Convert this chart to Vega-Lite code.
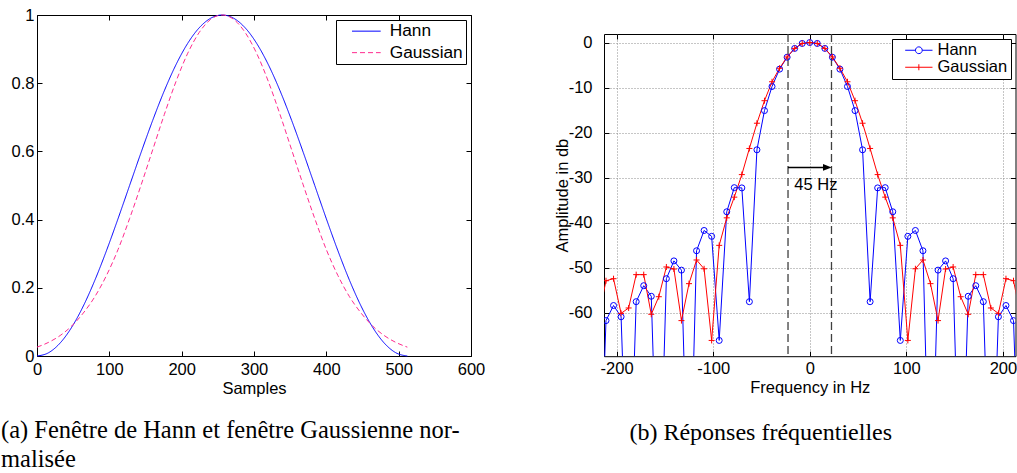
{
  "$schema": "https://vega.github.io/schema/vega-lite/v6.json",
  "padding": 0,
  "background": "white",
  "spacing": 67,
  "resolve": {"scale": {"color": "independent", "strokeDash": "independent"}, "legend": {"color": "independent", "strokeDash": "independent"}},
  "config": {
    "font": "Liberation Sans",
    "view": {"stroke": "black", "strokeWidth": 1},
    "axis": {"domain": false, "tickColor": "black", "tickSize": -5, "tickWidth": 1, "labelFontSize": 16.5, "labelColor": "black", "labelFont": "Liberation Sans", "titleFont": "Liberation Sans", "titleFontSize": 16.5, "titleFontWeight": "normal", "titleColor": "black", "grid": false, "labelFlush": false, "labelOverlap": false},
    "legend": {"orient": "top-right", "offset": 5, "strokeColor": "black", "fillColor": "white", "cornerRadius": 0, "labelColor": "black", "labelFont": "Liberation Sans"}
  },
  "datasets": {
    "spec": [
      {"f": -218.75, "db": -110, "s": "Hann"}, {"f": -210.9375, "db": -61.7, "s": "Hann"}, {"f": -203.125, "db": -58.35, "s": "Hann"}, {"f": -195.3125, "db": -60.85, "s": "Hann"}, {"f": -187.5, "db": -110, "s": "Hann"}, {"f": -179.6875, "db": -57.5, "s": "Hann"}, {"f": -171.875, "db": -53.95, "s": "Hann"}, {"f": -164.0625, "db": -56.3, "s": "Hann"}, {"f": -156.25, "db": -110, "s": "Hann"}, {"f": -148.4375, "db": -52.4, "s": "Hann"}, {"f": -140.625, "db": -48.45, "s": "Hann"}, {"f": -132.8125, "db": -50.5, "s": "Hann"}, {"f": -125, "db": -110, "s": "Hann"}, {"f": -117.1875, "db": -46.2, "s": "Hann"}, {"f": -109.375, "db": -41.7, "s": "Hann"}, {"f": -101.5625, "db": -43.0, "s": "Hann"}, {"f": -93.75, "db": -66.1, "s": "Hann"}, {"f": -85.9375, "db": -37.55, "s": "Hann"}, {"f": -78.125, "db": -32.2, "s": "Hann"}, {"f": -70.3125, "db": -32.25, "s": "Hann"}, {"f": -62.5, "db": -57.5, "s": "Hann"}, {"f": -54.6875, "db": -23.8, "s": "Hann"}, {"f": -46.875, "db": -15.1, "s": "Hann"}, {"f": -39.0625, "db": -9.75, "s": "Hann"}, {"f": -31.25, "db": -5.9, "s": "Hann"}, {"f": -23.4375, "db": -3.25, "s": "Hann"}, {"f": -15.625, "db": -1.3, "s": "Hann"}, {"f": -7.8125, "db": -0.2, "s": "Hann"}, {"f": 0, "db": 0, "s": "Hann"}, {"f": 7.8125, "db": -0.2, "s": "Hann"}, {"f": 15.625, "db": -1.3, "s": "Hann"}, {"f": 23.4375, "db": -3.25, "s": "Hann"}, {"f": 31.25, "db": -5.9, "s": "Hann"}, {"f": 39.0625, "db": -9.75, "s": "Hann"}, {"f": 46.875, "db": -15.1, "s": "Hann"}, {"f": 54.6875, "db": -23.8, "s": "Hann"}, {"f": 62.5, "db": -57.5, "s": "Hann"}, {"f": 70.3125, "db": -32.25, "s": "Hann"}, {"f": 78.125, "db": -32.2, "s": "Hann"}, {"f": 85.9375, "db": -37.55, "s": "Hann"}, {"f": 93.75, "db": -66.1, "s": "Hann"}, {"f": 101.5625, "db": -43.0, "s": "Hann"}, {"f": 109.375, "db": -41.7, "s": "Hann"}, {"f": 117.1875, "db": -46.2, "s": "Hann"}, {"f": 125, "db": -110, "s": "Hann"}, {"f": 132.8125, "db": -50.5, "s": "Hann"}, {"f": 140.625, "db": -48.45, "s": "Hann"}, {"f": 148.4375, "db": -52.4, "s": "Hann"}, {"f": 156.25, "db": -110, "s": "Hann"}, {"f": 164.0625, "db": -56.3, "s": "Hann"}, {"f": 171.875, "db": -53.95, "s": "Hann"}, {"f": 179.6875, "db": -57.5, "s": "Hann"}, {"f": 187.5, "db": -110, "s": "Hann"}, {"f": 195.3125, "db": -60.85, "s": "Hann"}, {"f": 203.125, "db": -58.35, "s": "Hann"}, {"f": 210.9375, "db": -61.7, "s": "Hann"}, {"f": 218.75, "db": -110, "s": "Hann"},
      {"f": -218.75, "db": -61, "s": "Gaussian"}, {"f": -210.9375, "db": -52.85, "s": "Gaussian"}, {"f": -203.125, "db": -52.4, "s": "Gaussian"}, {"f": -195.3125, "db": -60.1, "s": "Gaussian"}, {"f": -187.5, "db": -58.9, "s": "Gaussian"}, {"f": -179.6875, "db": -51.5, "s": "Gaussian"}, {"f": -171.875, "db": -51.5, "s": "Gaussian"}, {"f": -164.0625, "db": -60.3, "s": "Gaussian"}, {"f": -156.25, "db": -56.4, "s": "Gaussian"}, {"f": -148.4375, "db": -49.8, "s": "Gaussian"}, {"f": -140.625, "db": -50.25, "s": "Gaussian"}, {"f": -132.8125, "db": -61.7, "s": "Gaussian"}, {"f": -125, "db": -53.5, "s": "Gaussian"}, {"f": -117.1875, "db": -48.25, "s": "Gaussian"}, {"f": -109.375, "db": -50.2, "s": "Gaussian"}, {"f": -101.5625, "db": -66.1, "s": "Gaussian"}, {"f": -93.75, "db": -45.0, "s": "Gaussian"}, {"f": -85.9375, "db": -38.9, "s": "Gaussian"}, {"f": -78.125, "db": -34.3, "s": "Gaussian"}, {"f": -70.3125, "db": -29.3, "s": "Gaussian"}, {"f": -62.5, "db": -23.5, "s": "Gaussian"}, {"f": -54.6875, "db": -17.9, "s": "Gaussian"}, {"f": -46.875, "db": -12.9, "s": "Gaussian"}, {"f": -39.0625, "db": -8.7, "s": "Gaussian"}, {"f": -31.25, "db": -5.7, "s": "Gaussian"}, {"f": -23.4375, "db": -3.2, "s": "Gaussian"}, {"f": -15.625, "db": -1.3, "s": "Gaussian"}, {"f": -7.8125, "db": -0.2, "s": "Gaussian"}, {"f": 0, "db": 0, "s": "Gaussian"}, {"f": 7.8125, "db": -0.2, "s": "Gaussian"}, {"f": 15.625, "db": -1.3, "s": "Gaussian"}, {"f": 23.4375, "db": -3.2, "s": "Gaussian"}, {"f": 31.25, "db": -5.7, "s": "Gaussian"}, {"f": 39.0625, "db": -8.7, "s": "Gaussian"}, {"f": 46.875, "db": -12.9, "s": "Gaussian"}, {"f": 54.6875, "db": -17.9, "s": "Gaussian"}, {"f": 62.5, "db": -23.5, "s": "Gaussian"}, {"f": 70.3125, "db": -29.3, "s": "Gaussian"}, {"f": 78.125, "db": -34.3, "s": "Gaussian"}, {"f": 85.9375, "db": -38.9, "s": "Gaussian"}, {"f": 93.75, "db": -45.0, "s": "Gaussian"}, {"f": 101.5625, "db": -66.1, "s": "Gaussian"}, {"f": 109.375, "db": -50.2, "s": "Gaussian"}, {"f": 117.1875, "db": -48.25, "s": "Gaussian"}, {"f": 125, "db": -53.5, "s": "Gaussian"}, {"f": 132.8125, "db": -61.7, "s": "Gaussian"}, {"f": 140.625, "db": -50.25, "s": "Gaussian"}, {"f": 148.4375, "db": -49.8, "s": "Gaussian"}, {"f": 156.25, "db": -56.4, "s": "Gaussian"}, {"f": 164.0625, "db": -60.3, "s": "Gaussian"}, {"f": 171.875, "db": -51.5, "s": "Gaussian"}, {"f": 179.6875, "db": -51.5, "s": "Gaussian"}, {"f": 187.5, "db": -58.9, "s": "Gaussian"}, {"f": 195.3125, "db": -60.1, "s": "Gaussian"}, {"f": 203.125, "db": -52.4, "s": "Gaussian"}, {"f": 210.9375, "db": -52.85, "s": "Gaussian"}, {"f": 218.75, "db": -61, "s": "Gaussian"}
    ],
    "win": [
      {"n": 0, "v": 0, "s": "Hann"}, {"n": 16, "v": 0.0096, "s": "Hann"}, {"n": 32, "v": 0.0381, "s": "Hann"}, {"n": 48, "v": 0.0843, "s": "Hann"}, {"n": 64, "v": 0.1464, "s": "Hann"}, {"n": 80, "v": 0.2222, "s": "Hann"}, {"n": 96, "v": 0.3087, "s": "Hann"}, {"n": 112, "v": 0.4025, "s": "Hann"}, {"n": 128, "v": 0.5, "s": "Hann"}, {"n": 144, "v": 0.5975, "s": "Hann"}, {"n": 160, "v": 0.6913, "s": "Hann"}, {"n": 176, "v": 0.7778, "s": "Hann"}, {"n": 192, "v": 0.8536, "s": "Hann"}, {"n": 208, "v": 0.9157, "s": "Hann"}, {"n": 224, "v": 0.9619, "s": "Hann"}, {"n": 240, "v": 0.9904, "s": "Hann"}, {"n": 256, "v": 1, "s": "Hann"}, {"n": 272, "v": 0.9904, "s": "Hann"}, {"n": 288, "v": 0.9619, "s": "Hann"}, {"n": 304, "v": 0.9157, "s": "Hann"}, {"n": 320, "v": 0.8536, "s": "Hann"}, {"n": 336, "v": 0.7778, "s": "Hann"}, {"n": 352, "v": 0.6913, "s": "Hann"}, {"n": 368, "v": 0.5975, "s": "Hann"}, {"n": 384, "v": 0.5, "s": "Hann"}, {"n": 400, "v": 0.4025, "s": "Hann"}, {"n": 416, "v": 0.3087, "s": "Hann"}, {"n": 432, "v": 0.2222, "s": "Hann"}, {"n": 448, "v": 0.1464, "s": "Hann"}, {"n": 464, "v": 0.0843, "s": "Hann"}, {"n": 480, "v": 0.0381, "s": "Hann"}, {"n": 496, "v": 0.0096, "s": "Hann"}, {"n": 512, "v": 0, "s": "Hann"},
      {"n": 0, "v": 0.026, "s": "Gaussian"}, {"n": 16, "v": 0.040, "s": "Gaussian"}, {"n": 32, "v": 0.060, "s": "Gaussian"}, {"n": 48, "v": 0.088, "s": "Gaussian"}, {"n": 64, "v": 0.126, "s": "Gaussian"}, {"n": 80, "v": 0.174, "s": "Gaussian"}, {"n": 96, "v": 0.236, "s": "Gaussian"}, {"n": 112, "v": 0.312, "s": "Gaussian"}, {"n": 128, "v": 0.403, "s": "Gaussian"}, {"n": 144, "v": 0.502, "s": "Gaussian"}, {"n": 160, "v": 0.605, "s": "Gaussian"}, {"n": 176, "v": 0.708, "s": "Gaussian"}, {"n": 192, "v": 0.804, "s": "Gaussian"}, {"n": 208, "v": 0.886, "s": "Gaussian"}, {"n": 224, "v": 0.948, "s": "Gaussian"}, {"n": 240, "v": 0.987, "s": "Gaussian"}, {"n": 256, "v": 1, "s": "Gaussian"}, {"n": 272, "v": 0.987, "s": "Gaussian"}, {"n": 288, "v": 0.948, "s": "Gaussian"}, {"n": 304, "v": 0.886, "s": "Gaussian"}, {"n": 320, "v": 0.804, "s": "Gaussian"}, {"n": 336, "v": 0.708, "s": "Gaussian"}, {"n": 352, "v": 0.605, "s": "Gaussian"}, {"n": 368, "v": 0.502, "s": "Gaussian"}, {"n": 384, "v": 0.403, "s": "Gaussian"}, {"n": 400, "v": 0.312, "s": "Gaussian"}, {"n": 416, "v": 0.236, "s": "Gaussian"}, {"n": 432, "v": 0.174, "s": "Gaussian"}, {"n": 448, "v": 0.126, "s": "Gaussian"}, {"n": 464, "v": 0.088, "s": "Gaussian"}, {"n": 480, "v": 0.060, "s": "Gaussian"}, {"n": 496, "v": 0.040, "s": "Gaussian"}, {"n": 512, "v": 0.026, "s": "Gaussian"}
    ]
  },
  "hconcat": [
    {
      "width": 434,
      "height": 341,
      "title": {"text": ["(a) Fenêtre de Hann et fenêtre Gaussienne nor-", "malisée"], "orient": "bottom", "anchor": "start", "frame": "bounds", "font": "Liberation Serif", "fontSize": 24.5, "fontWeight": "normal", "color": "black", "lineHeight": 29, "offset": 22},
      "data": {"name": "win"},
      "layer": [
        {
          "transform": [{"filter": "datum.s === 'Hann'"}],
          "mark": {"type": "line", "strokeWidth": 1, "interpolate": "monotone"},
          "encoding": {
            "x": {"field": "n", "type": "quantitative", "scale": {"domain": [0, 600], "nice": false, "zero": false}, "axis": {"orient": "bottom", "values": [0, 100, 200, 300, 400, 500, 600], "title": "Samples", "labelPadding": 10, "titlePadding": 3}},
            "y": {"field": "v", "type": "quantitative", "scale": {"domain": [0, 1], "nice": false}, "axis": {"orient": "left", "values": [0, 0.2, 0.4, 0.6, 0.8, 1], "format": "~g", "title": null, "labelPadding": 8, "minExtent": 36}},
            "color": {"field": "s", "type": "nominal", "scale": {"domain": ["Hann", "Gaussian"], "range": ["#0000ff", "#ff2b8e"]}, "legend": {"title": null, "symbolType": "M-4.1,0H4.1", "symbolSize": 49, "symbolStrokeWidth": 1, "labelFontSize": 17.3, "padding": 2.5, "rowPadding": 3.5, "symbolOffset": 19.2, "labelOffset": 14.7}},
            "strokeDash": {"field": "s", "type": "nominal", "scale": {"domain": ["Hann", "Gaussian"], "range": [[1, 0], [5, 3]]}, "legend": {"title": null, "symbolType": "M-4.1,0H4.1", "symbolSize": 49, "symbolStrokeWidth": 1, "labelFontSize": 17.3, "padding": 2.5, "rowPadding": 3.5, "symbolOffset": 19.2, "labelOffset": 14.7}}
          }
        },
        {
          "transform": [{"filter": "datum.s === 'Gaussian'"}],
          "mark": {"type": "line", "strokeWidth": 1, "interpolate": "monotone"},
          "encoding": {
            "x": {"field": "n", "type": "quantitative", "scale": {"domain": [0, 600], "nice": false, "zero": false}, "axis": {"orient": "top", "values": [0, 100, 200, 300, 400, 500, 600], "labels": false, "title": null, "minExtent": 14}},
            "y": {"field": "v", "type": "quantitative", "scale": {"domain": [0, 1], "nice": false}, "axis": {"orient": "right", "values": [0, 0.2, 0.4, 0.6, 0.8, 1], "labels": false, "title": null}},
            "color": {"field": "s", "type": "nominal", "scale": {"domain": ["Hann", "Gaussian"], "range": ["#0000ff", "#ff2b8e"]}, "legend": {"title": null, "symbolType": "M-4.1,0H4.1", "symbolSize": 49, "symbolStrokeWidth": 1, "labelFontSize": 17.3, "padding": 2.5, "rowPadding": 3.5, "symbolOffset": 19.2, "labelOffset": 14.7}},
            "strokeDash": {"field": "s", "type": "nominal", "scale": {"domain": ["Hann", "Gaussian"], "range": [[1, 0], [5, 3]]}, "legend": {"title": null, "symbolType": "M-4.1,0H4.1", "symbolSize": 49, "symbolStrokeWidth": 1, "labelFontSize": 17.3, "padding": 2.5, "rowPadding": 3.5, "symbolOffset": 19.2, "labelOffset": 14.7}}
          }
        }
      ],
      "resolve": {"axis": {"x": "independent", "y": "independent"}}
    },
    {
      "spacing": 10,
      "resolve": {"scale": {"color": "independent"}, "legend": {"color": "independent"}},
      "vconcat": [
        {
          "width": 10,
          "height": 6.5,
          "view": {"stroke": null},
          "data": {"values": []},
          "mark": {"type": "point", "opacity": 0}
        },
        {
          "width": 411.5,
          "height": 322.2,
          "title": {"text": "(b) Réponses fréquentielles", "orient": "bottom", "anchor": "middle", "frame": "group", "dx": -49, "font": "Liberation Serif", "fontSize": 24, "fontWeight": "normal", "color": "black", "offset": 25},
          "layer": [
            {
              "data": {"values": [{"x": -22.5}, {"x": 22.5}]},
              "mark": {"type": "rule", "color": "#404040", "strokeDash": [8, 4], "strokeWidth": 1.3},
              "encoding": {"x": {"field": "x", "type": "quantitative", "scale": {"domain": [-213, 213], "nice": false, "zero": false}, "axis": null}}
            },
            {
              "data": {"name": "spec"},
              "mark": {"type": "line", "strokeWidth": 1, "clip": true},
              "encoding": {
                "x": {"field": "f", "type": "quantitative", "scale": {"domain": [-213, 213], "nice": false, "zero": false}, "axis": {"orient": "bottom", "values": [-200, -100, 0, 100, 200], "title": "Frequency in Hz", "labelPadding": 9, "titlePadding": 2.5, "grid": true, "gridColor": "#8c8c8c", "gridDash": [1, 2], "gridWidth": 1, "labelExpr": "replace(datum.label, '−', '-')"}},
                "y": {"field": "db", "type": "quantitative", "scale": {"domain": [-69.6, 1.9], "nice": false, "zero": false}, "axis": {"orient": "left", "values": [-60, -50, -40, -30, -20, -10, 0], "title": "Amplitude in db", "labelPadding": 17, "titlePadding": -2, "grid": true, "gridColor": "#8c8c8c", "gridDash": [1, 2], "gridWidth": 1, "labelExpr": "replace(datum.label, '−', '-')"}},
                "color": {"field": "s", "type": "nominal", "scale": {"domain": ["Hann", "Gaussian"], "range": ["#0000ff", "#ff0000"]}, "legend": {"title": null, "symbolSize": 49, "symbolStrokeWidth": 1, "labelFontSize": 16.5, "padding": 3, "rowPadding": 0, "symbolOffset": 15.6, "labelOffset": 10.4, "encode": {"symbols": {"update": {"shape": [{"test": "datum.value === 'Hann'", "value": "M-3.9,0H-0.97M0.97,0H3.9M-0.97,0A0.97,0.97,0,1,0,0.97,0A0.97,0.97,0,1,0,-0.97,0"}, {"value": "M-3.9,0H3.9M0,-0.86V0.86"}], "fill": {"value": "transparent"}}}}}}
              }
            },
            {
              "data": {"name": "spec"},
              "transform": [{"filter": "datum.s === 'Hann'"}],
              "mark": {"type": "point", "shape": "circle", "filled": false, "strokeWidth": 1, "size": 36, "opacity": 1, "clip": true},
              "encoding": {
                "x": {"field": "f", "type": "quantitative", "scale": {"domain": [-213, 213], "nice": false, "zero": false}, "axis": {"orient": "top", "values": [-200, -100, 0, 100, 200], "labels": false, "title": null}},
                "y": {"field": "db", "type": "quantitative", "scale": {"domain": [-69.6, 1.9], "nice": false, "zero": false}, "axis": {"orient": "right", "values": [-60, -50, -40, -30, -20, -10, 0], "labels": false, "title": null}},
                "color": {"field": "s", "type": "nominal", "scale": {"domain": ["Hann", "Gaussian"], "range": ["#0000ff", "#ff0000"]}, "legend": {"title": null, "symbolSize": 49, "symbolStrokeWidth": 1, "labelFontSize": 16.5, "padding": 3, "rowPadding": 0, "symbolOffset": 15.6, "labelOffset": 10.4, "encode": {"symbols": {"update": {"shape": [{"test": "datum.value === 'Hann'", "value": "M-3.9,0H-0.97M0.97,0H3.9M-0.97,0A0.97,0.97,0,1,0,0.97,0A0.97,0.97,0,1,0,-0.97,0"}, {"value": "M-3.9,0H3.9M0,-0.86V0.86"}], "fill": {"value": "transparent"}}}}}}
              }
            },
            {
              "data": {"name": "spec"},
              "transform": [{"filter": "datum.s === 'Gaussian'"}],
              "mark": {"type": "point", "shape": "M-1,0H1M0,-1V1", "filled": false, "strokeWidth": 1, "size": 36, "opacity": 1, "clip": true},
              "encoding": {
                "x": {"field": "f", "type": "quantitative", "scale": {"domain": [-213, 213], "nice": false, "zero": false}, "axis": null},
                "y": {"field": "db", "type": "quantitative", "scale": {"domain": [-69.6, 1.9], "nice": false, "zero": false}, "axis": null},
                "color": {"field": "s", "type": "nominal", "scale": {"domain": ["Hann", "Gaussian"], "range": ["#0000ff", "#ff0000"]}, "legend": {"title": null, "symbolSize": 49, "symbolStrokeWidth": 1, "labelFontSize": 16.5, "padding": 3, "rowPadding": 0, "symbolOffset": 15.6, "labelOffset": 10.4, "encode": {"symbols": {"update": {"shape": [{"test": "datum.value === 'Hann'", "value": "M-3.9,0H-0.97M0.97,0H3.9M-0.97,0A0.97,0.97,0,1,0,0.97,0A0.97,0.97,0,1,0,-0.97,0"}, {"value": "M-3.9,0H3.9M0,-0.86V0.86"}], "fill": {"value": "transparent"}}}}}}
              }
            },
            {
              "data": {"values": [{"x": -22.5, "x2": 15, "y": -27.7}]},
              "mark": {"type": "rule", "color": "black", "strokeWidth": 1.5},
              "encoding": {
                "x": {"field": "x", "type": "quantitative", "scale": {"domain": [-213, 213], "nice": false, "zero": false}, "axis": null},
                "x2": {"field": "x2"},
                "y": {"field": "y", "type": "quantitative", "scale": {"domain": [-69.6, 1.9], "nice": false, "zero": false}, "axis": null}
              }
            },
            {
              "data": {"values": [{"x": 18.2, "y": -27.7}]},
              "mark": {"type": "point", "shape": "M-1,-0.8L1,0L-1,0.8Z", "filled": true, "color": "black", "size": 74, "opacity": 1},
              "encoding": {
                "x": {"field": "x", "type": "quantitative", "scale": {"domain": [-213, 213], "nice": false, "zero": false}, "axis": null},
                "y": {"field": "y", "type": "quantitative", "scale": {"domain": [-69.6, 1.9], "nice": false, "zero": false}, "axis": null}
              }
            },
            {
              "data": {"values": [{"x": -16, "y": -31.7, "t": "45 Hz"}]},
              "mark": {"type": "text", "align": "left", "baseline": "middle", "fontSize": 16.5, "color": "black", "font": "Liberation Sans"},
              "encoding": {
                "x": {"field": "x", "type": "quantitative", "scale": {"domain": [-213, 213], "nice": false, "zero": false}, "axis": null},
                "y": {"field": "y", "type": "quantitative", "scale": {"domain": [-69.6, 1.9], "nice": false, "zero": false}, "axis": null},
                "text": {"field": "t"}
              }
            }
          ],
          "resolve": {"axis": {"x": "independent", "y": "independent"}}
        }
      ]
    }
  ]
}
